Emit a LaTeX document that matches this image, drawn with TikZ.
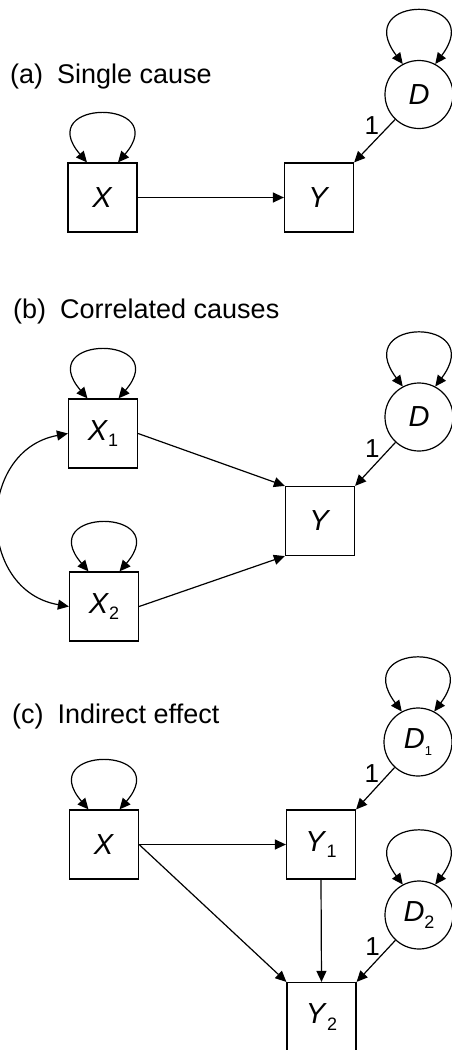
\documentclass[tikz,border=0pt]{standalone}
\usepackage{fontspec}
\setmainfont{Liberation Sans}
\usetikzlibrary{arrows.meta}

\newcommand{\vn}[2]{\textit{#1}\raisebox{-0.45ex}{\fontsize{18}{18}\selectfont #2}}
\newcommand{\vs}[2]{\textit{#1}\raisebox{-0.45ex}{\fontsize{13}{13}\selectfont #2}}

\tikzstyle{paneltitle} = [anchor=base west,inner sep=0pt,font=\fontsize{27}{30}\selectfont]
\tikzstyle{coef} = [inner sep=0pt,font=\fontsize{26}{30}\selectfont]
\tikzstyle{obsbox} = [shape=rectangle,draw,line width=1.2pt,minimum size=69pt,inner sep=0pt,font=\fontsize{29}{32}\selectfont]
\tikzstyle{distcirc} = [shape=circle,draw,line width=1.2pt,minimum size=68pt,inner sep=0pt,font=\fontsize{29}{32}\selectfont]
\tikzstyle{pathdecorate} = [-{Triangle[length=11pt,width=10pt]},line width=1.2pt]
\tikzstyle{loopdecorate} = [{Triangle[length=11pt,width=10pt]}-{Triangle[length=11pt,width=10pt]},line width=1.2pt]

\begin{document}
\begin{tikzpicture}[x=1pt,y=1pt]
      \useasboundingbox (0,0) rectangle (451,-1050);

      %% panel titles
      \node[paneltitle] (ta) at (10,-83) {(a)\hspace{14pt}Single cause};
      \node[paneltitle] (tb) at (13,-318) {(b)\hspace{14pt}Correlated causes};
      \node[paneltitle] (tc) at (12,-723) {(c)\hspace{14pt}Indirect effect};

      %% nodes or vertices
      \foreach \nodename/\txt/\x/\y/\shape in {
        xa/{\textit{X}}/102.5/197.5/obsbox,
        ya/{\textit{Y}}/319/197.5/obsbox,
        da/{\textit{D}}/419/94.5/distcirc,
        xb1/{\vn{X}{1}}/103/433.5/obsbox,
        xb2/{\vn{X}{2}}/104/606.5/obsbox,
        yb/{\textit{Y}}/320/521/obsbox,
        db/{\textit{D}}/419/417/distcirc,
        xc/{\textit{X}}/104/844.5/obsbox,
        yc1/{\vn{Y}{1}}/321/844.5/obsbox,
        yc2/{\vn{Y}{2}}/321.5/1017/obsbox,
        dc1/{\vs{D}{1}}/418/742/distcirc,
        dc2/{\vn{D}{2}}/419/915/distcirc}
      {
        \node[\shape] (\nodename) at (\x,-\y) {\txt};
      }

      % variances of the boxes and the disturbances
      \foreach \nodename in {xa, xb1, xb2, xc}
        \draw[loopdecorate] ([xshift=-15.5pt]\nodename.north) .. controls +(-55,64) and +(55,64) .. ([xshift=15.5pt]\nodename.north);
      \foreach \nodename in {da, db, dc1, dc2}
        \draw[loopdecorate] (\nodename.118) .. controls +(-53,70) and +(53,70) .. (\nodename.62);

      % edges or lines
      \path
      \foreach \startnode/\endnode in {
        xa.east/ya.west, xb1.east/yb.north west, xb2.east/yb.south west,
        xc.east/yc1.west, xc.east/yc2.north west, yc1.south/yc2.north}
      {
        (\startnode) edge[pathdecorate] (\endnode)
      };

      % disturbance paths fixed to 1
      \path
      \foreach \startnode/\endnode/\lbl in {da/ya/la, db/yb/lb, dc1/yc1/lc1, dc2/yc2/lc2}
      {
        (\startnode) edge[pathdecorate] node[coef,pos=0.15,xshift=-17pt] (\lbl) {1} (\endnode.north east)
      };

      % correlation of the two causes
      \draw[loopdecorate] (xb1.west) .. controls +(-92,-17) and +(-93,16) .. (xb2.west);
    \end{tikzpicture}
\end{document}
